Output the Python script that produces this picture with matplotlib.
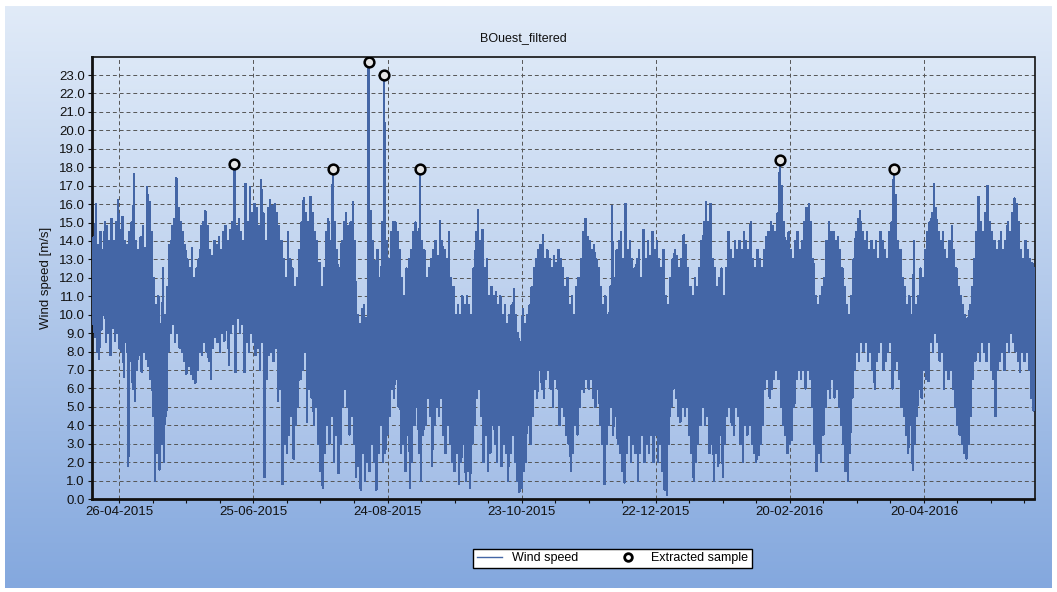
import numpy as np
import matplotlib
matplotlib.use("Agg")
import matplotlib.pyplot as plt
import matplotlib.dates as mdates
import matplotlib.colors as mcolors
from matplotlib.lines import Line2D
from matplotlib.ticker import FixedLocator

plt.rcParams["font.family"] = ["Liberation Sans", "DejaVu Sans"]

# daily extremes of the filtered wind speed [m/s], one value per day from 14-04-2015
START = np.datetime64("2015-04-14T00:00")

wind_high = [
    14.2, 16.0, 13.8, 14.5, 13.5, 15.0, 14.8, 14.0, 15.2, 14.0,
    15.0, 16.2, 14.6, 15.3, 14.0, 13.8, 14.5, 15.0, 17.6, 14.0,
    13.5, 14.2, 14.8, 13.6, 16.9, 16.1, 14.5, 12.0, 10.5, 11.0,
    9.5, 12.5, 10.0, 11.5, 13.8, 14.8, 15.2, 17.4, 15.8, 15.0,
    14.5, 13.8, 13.0, 12.5, 13.6, 12.0, 12.5, 13.0, 14.8, 15.0,
    15.6, 14.8, 13.5, 13.2, 14.0, 13.8, 14.2, 13.5, 14.5, 14.8,
    14.0, 14.6, 15.0, 18.2, 14.8, 15.2, 14.5, 14.0, 17.1, 15.0,
    16.9, 15.5, 16.0, 15.8, 14.8, 17.3, 15.5, 14.0, 15.8, 16.2,
    15.9, 16.0, 15.5, 14.8, 14.0, 13.0, 12.0, 14.5, 13.0, 12.5,
    11.5, 12.0, 13.5, 15.0, 16.3, 15.5, 15.0, 16.4, 15.5, 14.5,
    14.0, 12.8, 11.5, 12.5, 14.5, 15.2, 14.0, 17.9, 15.0, 13.5,
    12.5, 14.0, 15.0, 15.5, 14.8, 15.0, 16.1, 14.0, 10.0, 9.5,
    10.3, 10.5, 9.8, 23.7, 15.6, 14.0, 12.9, 13.5, 12.0, 15.0,
    23.0, 14.0, 13.0, 14.5, 15.0, 15.0, 14.5, 13.5, 12.0, 11.0,
    12.5, 13.0, 13.5, 14.5, 15.0, 14.5, 17.9, 14.0, 13.5, 12.0,
    12.5, 13.0, 13.5, 14.0, 13.2, 15.1, 14.0, 13.5, 13.0, 14.5,
    12.0, 11.5, 10.0, 10.5, 10.0, 11.0, 10.5, 11.0, 10.5, 10.0,
    12.5, 14.5, 15.7, 14.0, 14.6, 12.5, 13.0, 11.0, 11.5, 11.0,
    11.2, 10.5, 11.0, 10.0, 10.5, 9.5, 10.0, 10.5, 11.4, 10.0,
    9.0, 8.5, 10.3, 9.5, 10.0, 10.5, 11.5, 12.5, 13.0, 13.5,
    13.8, 14.3, 13.0, 13.5, 13.0, 12.5, 13.2, 12.8, 13.5, 13.0,
    12.5, 11.5, 12.0, 10.5, 11.0, 10.0, 11.5, 12.0, 13.0, 14.5,
    15.2, 14.2, 14.0, 13.5, 13.8, 13.0, 12.5, 11.5, 10.5, 11.0,
    10.0, 11.5, 15.9, 12.0, 13.5, 14.0, 14.5, 13.0, 16.0, 13.5,
    14.0, 13.0, 12.5, 13.0, 13.5, 12.0, 14.6, 13.0, 14.0, 13.2,
    14.5, 13.5, 14.0, 13.0, 12.5, 13.5, 11.0, 10.5, 12.0, 13.0,
    13.5, 13.2, 12.5, 13.0, 14.3, 13.8, 12.5, 11.5, 11.0, 12.0,
    11.5, 12.5, 14.0, 15.0, 16.1, 15.0, 16.0, 13.0, 12.5, 11.5,
    12.0, 12.5, 11.0, 12.5, 14.5, 13.5, 13.0, 14.0, 13.5, 14.0,
    13.5, 14.5, 14.0, 13.5, 15.0, 13.0, 12.5, 13.5, 13.0, 12.5,
    13.5, 14.2, 14.5, 15.0, 14.8, 14.5, 15.5, 18.4, 17.0, 15.0,
    14.0, 14.5, 13.5, 13.0, 14.0, 14.5, 13.5, 14.0, 15.0, 15.8,
    16.0, 15.0, 13.0, 11.0, 10.5, 11.0, 11.5, 12.0, 14.0, 15.0,
    14.5, 14.5, 14.0, 14.2, 13.5, 12.5, 11.5, 10.5, 10.0, 11.0,
    13.0, 14.5, 15.2, 15.6, 14.5, 14.0, 14.5, 13.5, 14.0, 13.5,
    14.0, 13.0, 14.5, 14.0, 13.5, 13.0, 14.5, 15.0, 17.9, 16.5,
    14.0, 13.5, 12.0, 11.5, 10.5, 11.0, 10.0, 14.0, 10.5, 11.0,
    12.5, 12.0, 13.5, 14.5, 15.0, 15.5, 17.1, 15.8, 14.5, 14.0,
    14.5, 13.5, 13.0, 14.0, 14.8, 13.5, 12.5, 11.5, 11.0, 10.5,
    10.0, 9.8, 10.5, 11.5, 13.0, 14.5, 16.4, 15.0, 14.5, 15.5,
    17.0, 15.0, 14.5, 14.0, 13.5, 14.0, 14.5, 13.5, 14.0, 15.0,
    14.5, 15.5, 16.3, 16.0, 15.0, 13.5, 13.0, 14.0, 13.5, 13.0,
    12.8, 12.5,
]

wind_low = [
    9.5, 8.8, 8.0, 7.6, 9.2, 10.0, 8.5, 9.0, 7.8, 9.3,
    8.6, 9.0, 8.2, 8.0, 6.6, 8.5, 1.8, 7.5, 6.0, 5.3,
    7.0, 7.8, 6.9, 8.0, 7.6, 7.2, 6.5, 4.5, 1.0, 2.5,
    1.6, 3.0, 2.0, 4.5, 8.0, 9.0, 9.5, 8.5, 9.0, 8.2,
    8.0, 7.5, 6.8, 7.2, 6.8, 6.5, 6.3, 7.0, 8.0, 7.8,
    8.5, 8.0, 7.5, 6.5, 8.2, 8.8, 8.5, 8.0, 9.0, 8.6,
    9.2, 7.3, 9.0, 9.5, 6.9, 9.8, 9.0, 9.5, 6.9, 8.5,
    8.0, 9.0, 8.5, 7.8, 8.2, 7.0, 8.5, 1.2, 6.5, 7.8,
    8.0, 7.5, 8.2, 5.3, 6.0, 0.8, 3.0, 2.5, 3.5, 4.5,
    2.2, 4.0, 5.0, 6.5, 7.0, 8.0, 4.2, 6.0, 5.5, 4.0,
    5.0, 3.0, 1.5, 0.6, 2.5, 4.0, 3.0, 4.5, 2.0, 3.5,
    1.4, 3.0, 5.0, 6.0, 5.0, 3.5, 4.5, 3.0, 1.2, 1.8,
    0.5, 2.5, 1.0, 2.0, 1.5, 3.0, 2.0, 0.5, 2.5, 4.0,
    2.0, 2.5, 3.5, 4.5, 6.0, 5.5, 6.5, 5.0, 2.5, 3.0,
    1.5, 3.5, 0.6, 2.0, 4.0, 5.0, 2.5, 1.0, 3.5, 4.0,
    5.5, 4.5, 1.8, 4.0, 5.0, 4.5, 5.5, 3.5, 2.5, 4.0,
    3.0, 2.0, 1.5, 2.5, 0.8, 2.0, 3.0, 1.0, 1.5, 0.6,
    3.0, 4.0, 5.5, 6.0, 4.5, 2.0, 3.5, 1.5, 2.5, 4.0,
    3.0, 2.0, 4.0, 1.8, 3.0, 2.5, 1.0, 2.5, 3.5, 2.0,
    1.0, 0.4, 0.6, 1.5, 2.0, 4.0, 3.0, 4.5, 6.0, 5.5,
    7.0, 6.0, 5.5, 6.5, 7.0, 6.0, 5.0, 6.5, 6.0, 4.0,
    5.0, 4.5, 3.5, 3.0, 1.5, 2.5, 4.0, 3.5, 5.0, 6.0,
    5.8, 6.5, 6.0, 6.5, 5.5, 5.0, 6.0, 4.0, 3.0, 0.8,
    3.0, 4.0, 5.0, 3.5, 4.5, 3.0, 2.5, 1.5, 0.9, 2.5,
    3.5, 2.0, 3.0, 2.5, 1.0, 2.5, 3.5, 2.0, 3.0, 2.5,
    3.5, 2.0, 3.5, 2.0, 3.0, 1.5, 0.5, 0.2, 3.0, 5.0,
    6.0, 5.5, 4.5, 4.2, 5.0, 4.5, 5.0, 3.5, 2.5, 1.0,
    2.0, 3.0, 4.0, 5.0, 4.0, 4.5, 2.5, 3.0, 1.0, 2.5,
    1.8, 3.5, 1.2, 3.0, 4.5, 5.0, 4.0, 3.5, 5.0, 4.5,
    3.0, 2.0, 4.0, 3.5, 4.0, 3.0, 2.5, 2.0, 2.4, 3.0,
    4.0, 6.0, 6.5, 5.5, 6.0, 6.5, 7.0, 6.5, 5.0, 4.0,
    3.5, 2.5, 3.0, 3.2, 5.0, 6.5, 7.0, 6.5, 7.0, 6.0,
    7.0, 6.5, 5.0, 3.0, 1.5, 2.5, 2.0, 3.5, 5.0, 6.0,
    5.5, 6.5, 5.5, 6.0, 5.0, 4.0, 3.0, 1.5, 1.0, 2.5,
    5.5, 7.0, 8.0, 7.5, 8.5, 8.0, 8.5, 7.5, 8.0, 7.0,
    6.0, 7.5, 8.0, 8.5, 7.0, 7.5, 8.0, 8.5, 6.0, 7.0,
    7.5, 6.5, 5.0, 4.5, 3.5, 2.5, 4.0, 1.6, 3.0, 4.5,
    6.0, 5.5, 7.0, 6.5, 6.4, 8.5, 8.0, 9.0, 8.5, 7.5,
    8.0, 6.0, 7.0, 6.5, 7.0, 6.0, 5.0, 4.0, 3.5, 3.0,
    2.5, 2.2, 3.0, 4.5, 6.5, 7.5, 8.0, 7.5, 8.5, 8.0,
    7.5, 8.5, 7.0, 6.5, 4.5, 7.0, 7.5, 8.0, 7.0, 8.5,
    8.0, 9.0, 8.5, 8.0, 7.5, 6.9, 8.0, 7.5, 8.0, 7.0,
    5.5, 4.8,
]

sample_dates = ["2015-06-16T12:00", "2015-07-30T12:00", "2015-08-15T12:00",
                "2015-08-22T12:00", "2015-09-07T12:00", "2016-02-15T12:00",
                "2016-04-06T12:00"]
sample_values = [18.2, 17.9, 23.7, 23.0, 17.9, 18.4, 17.9]

tick_dates = ["2015-04-26", "2015-06-25", "2015-08-24", "2015-10-23",
              "2015-12-22", "2016-02-20", "2016-04-20"]
tick_labels = ["26-04-2015", "25-06-2015", "24-08-2015", "23-10-2015",
               "22-12-2015", "20-02-2016", "20-04-2016"]

LINE = "#4466a6"
W, H = 1057, 592

# low at midnight, high at noon -> one zigzag per day
n = len(wind_low)
times = START + np.arange(2 * n) * np.timedelta64(12, "h")
speed = np.empty(2 * n)
speed[0::2] = wind_low
speed[1::2] = wind_high


def vgrad(top, bottom, n=256):
    c0 = np.array(mcolors.to_rgb(top))
    c1 = np.array(mcolors.to_rgb(bottom))
    f = np.linspace(0, 1, n)[:, None]
    return (c0 * (1 - f) + c1 * f)[:, None, :]


fig = plt.figure(figsize=(W / 100, H / 100), dpi=100, facecolor="white")

panel = fig.add_axes([5 / W, 4 / H, 1047 / W, 582 / H], zorder=0)
panel.imshow(vgrad("#e1ebf8", "#84a8de"), aspect="auto", extent=[0, 1, 0, 1])
panel.axis("off")

pos = [91.7 / W, 1 - 499 / H, (1034.5 - 91.7) / W, (499 - 57) / H]
back = fig.add_axes(pos, zorder=1)
back.imshow(vgrad("#dce8f7", "#a4bee7"), aspect="auto", extent=[0, 1, 0, 1])
back.axis("off")

ax = fig.add_axes(pos, zorder=2)
ax.patch.set_alpha(0)

ax.plot(times, speed, color=LINE, lw=1.0, antialiased=False, zorder=3)
ax.plot(np.array(sample_dates, dtype="datetime64[m]"), sample_values, "o",
        ms=7, mfc="#e4e4e4", mec="black", mew=1.8, zorder=4)

ax.set_xlim(np.datetime64("2015-04-13T15:20"), np.datetime64("2016-06-08T11:30"))
ax.set_ylim(0, 23.98)

major = mdates.date2num(np.array(tick_dates, dtype="datetime64[D]"))
ax.xaxis.set_major_locator(FixedLocator(major))
ax.set_xticklabels(tick_labels)
ax.xaxis.set_minor_locator(FixedLocator(major[0] + 15 * np.arange(-1, 28)))

yt = np.arange(0, 24)
ax.set_yticks(yt)
ax.set_yticklabels([f"{v:.1f}" for v in yt])

ax.grid(True, which="major", ls=(0, (4, 3)), color="#555555", lw=0.7)
ax.tick_params(which="both", direction="out", length=3, width=0.8,
               labelsize=9.5, pad=2, colors="#111111")

for side in ("left", "bottom"):
    ax.spines[side].set_linewidth(2.0)
for side in ("top", "right"):
    ax.spines[side].set_linewidth(1.2)
for sp in ax.spines.values():
    sp.set_color("#111111")

ax.set_ylabel("Wind speed [m/s]", fontsize=9.5, labelpad=5, color="#111111")
fig.text(523 / W, 1 - 38 / H, "BOuest_filtered", ha="center", va="center",
         fontsize=9, color="#111111")

handles = [Line2D([], [], color=LINE, lw=1.0),
           Line2D([], [], marker="o", ls="none", ms=5.5, mfc="white",
                  mec="black", mew=2.0)]
leg = fig.legend(handles, ["Wind speed", "Extracted sample"], loc="center",
                 bbox_to_anchor=(612.5 / W, 1 - 558.5 / H), ncol=2,
                 fancybox=False, framealpha=1, edgecolor="black", fontsize=9,
                 handlelength=2.0, columnspacing=3.0, borderpad=0.3,
                 handletextpad=0.8)
leg.get_frame().set_linewidth(1.0)
leg.set_zorder(5)

fig.savefig("out.png", dpi=100)
